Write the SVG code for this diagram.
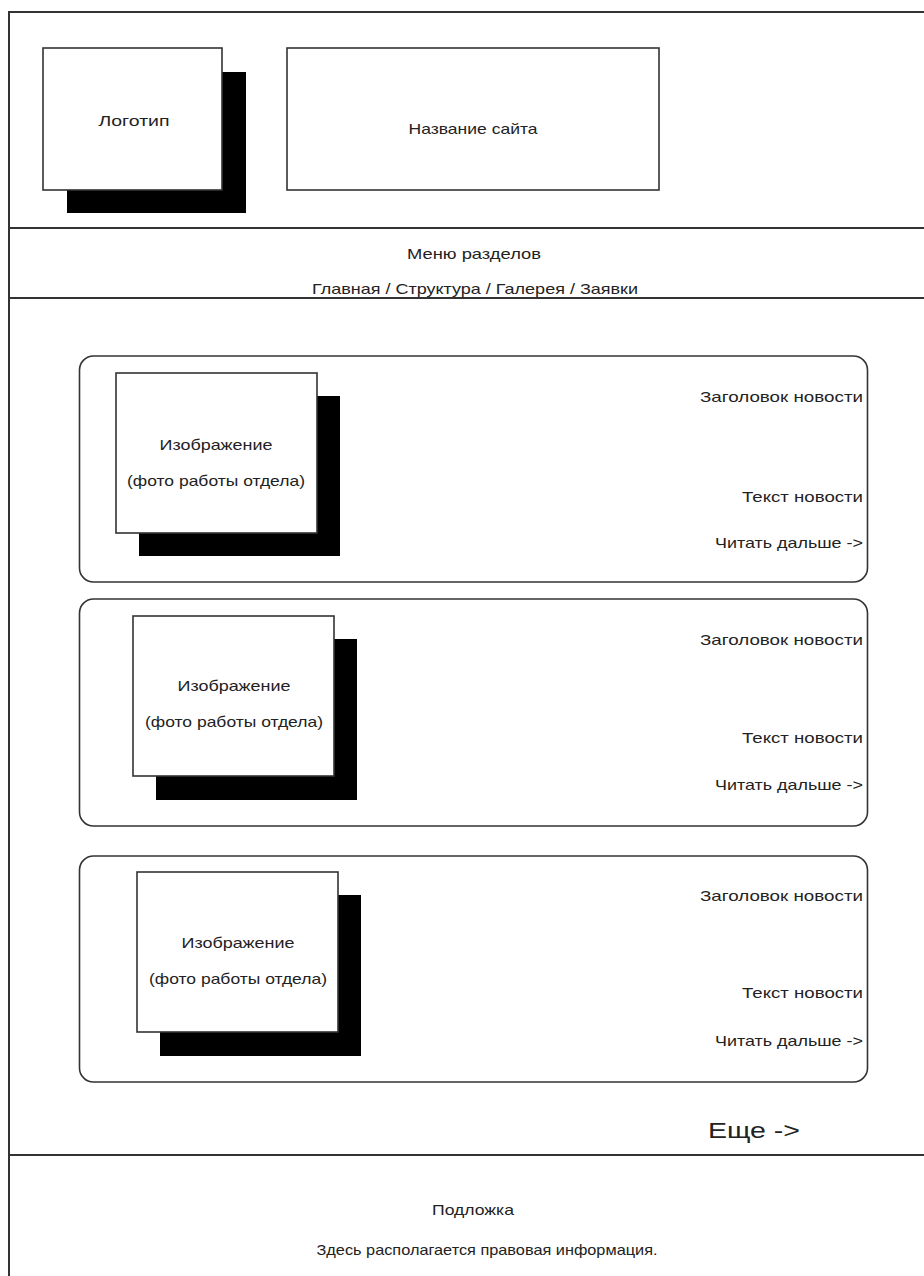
<svg xmlns="http://www.w3.org/2000/svg" width="924" height="1276" viewBox="0 0 924 1276">
<style>
.ln{stroke:#333;stroke-width:2;fill:none}
.box{fill:#fff;stroke:#333;stroke-width:1.6}
.card{fill:#fff;stroke:#333;stroke-width:1.6}
.sh{fill:#000}
text{font-family:"Liberation Sans","Open Sans",Arial,sans-serif;font-size:14.5px;fill:#222}
.m{text-anchor:middle}
.e{text-anchor:end}
.big{font-size:22px}
</style>
<rect width="924" height="1276" fill="#fff"/>
<g id="frame">
<path class="ln" d="M9 1276 V12 H924"/>
<path class="ln" d="M9 228 H924 M9 298 H924 M9 1155 H924"/>
</g>
<g id="logo">
<rect class="sh" x="67" y="72" width="179" height="141"/>
<rect class="box" x="43" y="48" width="179" height="142"/>
<text class="m" x="134" y="126" textLength="71" lengthAdjust="spacingAndGlyphs">Логотип</text>
</g>
<g id="site-title">
<rect class="box" x="287" y="48" width="372" height="142"/>
<text class="m" x="473" y="134" textLength="129" lengthAdjust="spacingAndGlyphs">Название сайта</text>
</g>
<g id="menu">
<text class="m" x="474" y="259" textLength="134" lengthAdjust="spacingAndGlyphs">Меню разделов</text>
<text class="m" x="475" y="294" textLength="326" lengthAdjust="spacingAndGlyphs">Главная / Структура / Галерея / Заявки</text>
</g>
<g id="news1">
<rect class="card" x="79.5" y="356" width="788" height="226" rx="14"/>
<rect class="sh" x="139" y="396" width="201" height="160"/>
<rect class="box" x="116" y="373" width="201" height="160"/>
<text class="m" x="216" y="450" textLength="113" lengthAdjust="spacingAndGlyphs">Изображение</text>
<text class="m" x="216" y="486" textLength="178" lengthAdjust="spacingAndGlyphs">(фото работы отдела)</text>
<text class="e" x="863" y="402" textLength="163" lengthAdjust="spacingAndGlyphs">Заголовок новости</text>
<text class="e" x="863" y="502" textLength="121" lengthAdjust="spacingAndGlyphs">Текст новости</text>
<text class="e" x="863" y="548" textLength="148" lengthAdjust="spacingAndGlyphs">Читать дальше -&gt;</text>
</g>
<g id="news2">
<rect class="card" x="79.5" y="599" width="788" height="227" rx="14"/>
<rect class="sh" x="156" y="639" width="201" height="161"/>
<rect class="box" x="133" y="616" width="201" height="160"/>
<text class="m" x="234" y="691" textLength="113" lengthAdjust="spacingAndGlyphs">Изображение</text>
<text class="m" x="234" y="727" textLength="178" lengthAdjust="spacingAndGlyphs">(фото работы отдела)</text>
<text class="e" x="863" y="645" textLength="163" lengthAdjust="spacingAndGlyphs">Заголовок новости</text>
<text class="e" x="863" y="743" textLength="121" lengthAdjust="spacingAndGlyphs">Текст новости</text>
<text class="e" x="863" y="790" textLength="148" lengthAdjust="spacingAndGlyphs">Читать дальше -&gt;</text>
</g>
<g id="news3">
<rect class="card" x="79.5" y="856" width="788" height="226" rx="14"/>
<rect class="sh" x="160" y="895" width="201" height="161"/>
<rect class="box" x="137" y="872" width="201" height="160"/>
<text class="m" x="238" y="948" textLength="113" lengthAdjust="spacingAndGlyphs">Изображение</text>
<text class="m" x="238" y="984" textLength="178" lengthAdjust="spacingAndGlyphs">(фото работы отдела)</text>
<text class="e" x="863" y="901" textLength="163" lengthAdjust="spacingAndGlyphs">Заголовок новости</text>
<text class="e" x="863" y="998" textLength="121" lengthAdjust="spacingAndGlyphs">Текст новости</text>
<text class="e" x="863" y="1046" textLength="148" lengthAdjust="spacingAndGlyphs">Читать дальше -&gt;</text>
</g>
<g id="more">
<text class="big" x="708" y="1138" textLength="92" lengthAdjust="spacingAndGlyphs">Еще -&gt;</text>
</g>
<g id="footer">
<text class="m" x="473" y="1215" textLength="82" lengthAdjust="spacingAndGlyphs">Подложка</text>
<text class="m" x="487" y="1255" textLength="341" lengthAdjust="spacingAndGlyphs">Здесь располагается правовая информация.</text>
</g>
<g id="connectors"/>
</svg>
